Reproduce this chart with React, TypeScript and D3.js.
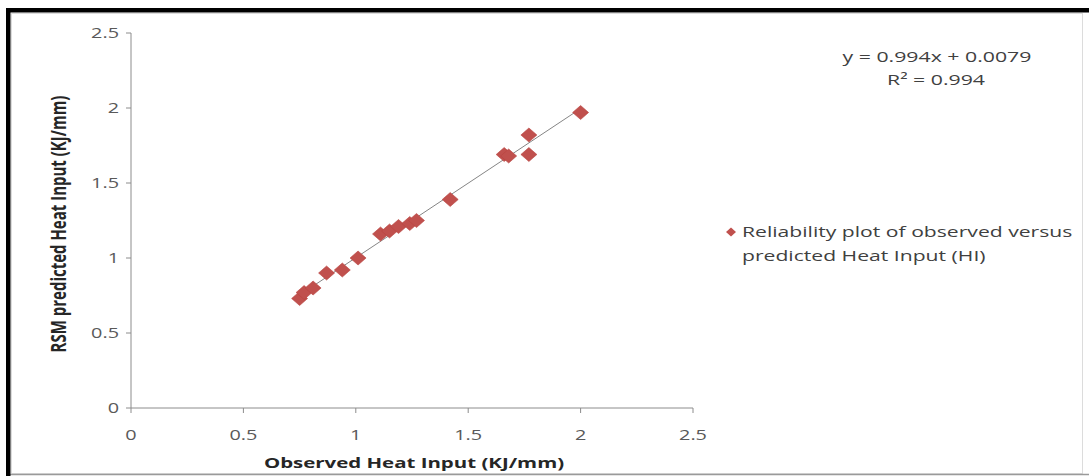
import React from "react";
import * as d3 from "d3";

const observed = [0.75, 0.77, 0.81, 0.87, 0.94, 1.01, 1.11, 1.15, 1.19, 1.24, 1.27, 1.42, 1.66, 1.68, 1.77, 1.77, 2.0];
const predicted = [0.73, 0.77, 0.8, 0.9, 0.92, 1.0, 1.16, 1.18, 1.21, 1.23, 1.25, 1.39, 1.69, 1.68, 1.69, 1.82, 1.97];
const xTicks = [0, 0.5, 1, 1.5, 2, 2.5];
const yTicks = [0, 0.5, 1, 1.5, 2, 2.5];
const xTickLabels = ["0", "0.5", "1", "1.5", "2", "2.5"];
const yTickLabels = ["0", "0.5", "1", "1.5", "2", "2.5"];
const slope = 0.994;
const intercept = 0.0079;
const equationText = "y = 0.994x + 0.0079";
const r2Text = "R² = 0.994";
const xTitle = "Observed Heat Input (KJ/mm)";
const yTitle = "RSM predicted Heat Input (KJ/mm)";
const legendLines = ["Reliability plot of observed versus", "predicted Heat Input (HI)"];

const W = 1089;
const H = 476;
const SX = 1.4;
const FONT = "'Open Sans', sans-serif";

function T(props: { x: number; y: number; anchor?: string; size: number; weight?: string; fill: string; rotate?: boolean; children: React.ReactNode }) {
  const { x, y, anchor = "start", size, weight = "normal", fill, rotate, children } = props;
  return (
    <text
      transform={`translate(${x},${y}) scale(${SX},1)${rotate ? " rotate(-90)" : ""}`}
      textAnchor={anchor}
      fontSize={size}
      fontWeight={weight}
      fill={fill}
      fontFamily={FONT}
    >
      {children}
    </text>
  );
}

export default function App() {
  const x = d3.scaleLinear().domain([0, 2.5]).range([131, 693]);
  const y = d3.scaleLinear().domain([0, 2.5]).range([408, 33]);
  const [xmin, xmax] = d3.extent(observed) as [number, number];
  const trend = d3.line<number>().x((v) => x(v)).y((v) => y(slope * v + intercept));
  const diamond = (cx: number, cy: number, hw: number, hh: number) =>
    `M${cx},${cy - hh}L${cx + hw},${cy}L${cx},${cy + hh}L${cx - hw},${cy}Z`;
  const axisColor = "#8c8c8c";
  const labelColor = "#595959";
  const red = "#c0504d";

  return (
    <svg width={W} height={H} style={{ position: "absolute", left: 0, top: 0, background: "#fff" }}>
      <rect x={0} y={0} width={W} height={H} fill="#fff" />
      {/* frame */}
      <rect x={11.5} y={13.5} width={1071} height={460} fill="none" stroke="#dcdcdc" />
      <line x1={10} x2={W} y1={474.5} y2={474.5} stroke="#9a9a9a" strokeWidth={1.5} />
      <rect x={6} y={8} width={W - 6} height={4.5} fill="#000" />
      <rect x={6} y={8} width={4.5} height={H - 8} fill="#000" />

      {/* axes */}
      <line x1={x(0)} x2={x(0)} y1={y(2.5)} y2={y(0)} stroke={axisColor} />
      <line x1={x(0)} x2={x(2.5)} y1={y(0)} y2={y(0)} stroke={axisColor} />
      {yTicks.map((t, i) => (
        <g key={"y" + i}>
          <line x1={x(0) - 5} x2={x(0)} y1={y(t)} y2={y(t)} stroke={axisColor} />
          <T x={x(0) - 12} y={y(t) + 5} anchor="end" size={14.2} fill={labelColor}>
            {yTickLabels[i]}
          </T>
        </g>
      ))}
      {xTicks.map((t, i) => (
        <g key={"x" + i}>
          <line x1={x(t)} x2={x(t)} y1={y(0)} y2={y(0) + 5} stroke={axisColor} />
          <T x={x(t)} y={y(0) + 32} anchor="middle" size={14.2} fill={labelColor}>
            {xTickLabels[i]}
          </T>
        </g>
      ))}

      {/* trendline */}
      <path d={trend([xmin, xmax]) || ""} stroke="#858585" strokeWidth={1} fill="none" />

      {/* points */}
      {observed.map((v, i) => (
        <path key={"p" + i} d={diamond(x(v), y(predicted[i]), 8, 7)} fill={red} stroke="#b9433f" strokeWidth={0.6} />
      ))}

      {/* titles */}
      <T x={414} y={468} anchor="middle" size={14.6} weight="bold" fill="#262626">
        {xTitle}
      </T>
      <T x={66} y={224} anchor="middle" size={15} weight="bold" fill="#262626" rotate>
        {yTitle}
      </T>

      {/* equation */}
      <T x={937} y={62} anchor="middle" size={15.2} fill="#404040">
        {equationText}
      </T>
      <T x={936} y={85} anchor="middle" size={15.2} fill="#404040">
        {r2Text}
      </T>

      {/* legend */}
      <path d={diamond(731, 232, 5, 4.5)} fill={red} />
      <T x={742} y={237} size={15.1} fill="#404040">
        {legendLines[0]}
      </T>
      <T x={742} y={261} size={15.1} fill="#404040">
        {legendLines[1]}
      </T>
    </svg>
  );
}
